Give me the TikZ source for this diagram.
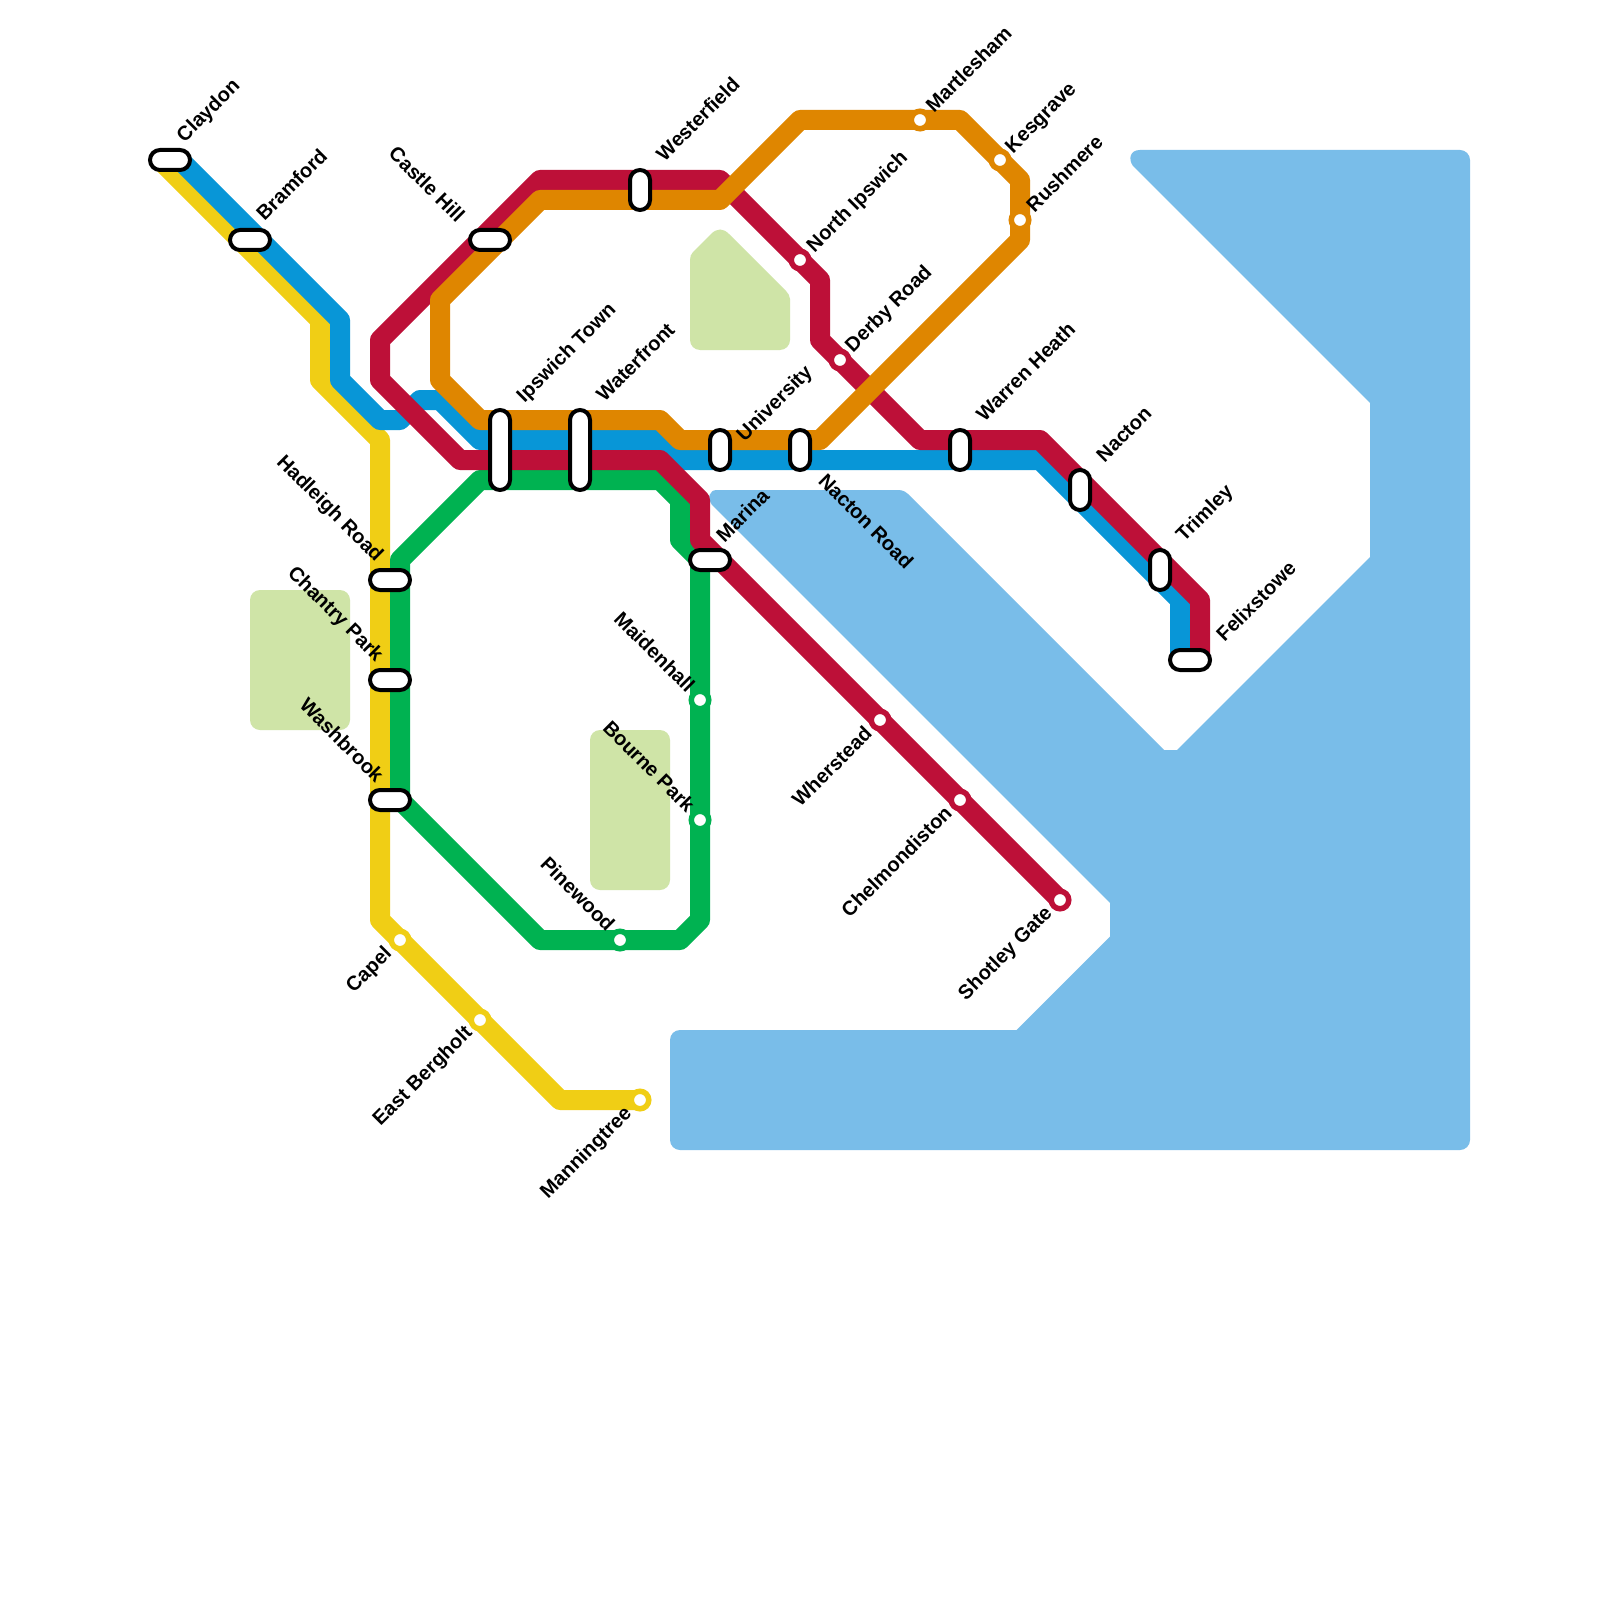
\documentclass[tikz,border=0pt]{standalone}
\usepackage{fontspec}
\setmainfont{Liberation Sans}
\usetikzlibrary{calc}
\definecolor{cyellow}{HTML}{F0CE15}
\definecolor{cblue}{HTML}{0896D7}
\definecolor{cred}{HTML}{BD1038}
\definecolor{corange}{HTML}{DF8600}
\definecolor{cgreen}{HTML}{00B251}
\definecolor{cwater}{HTML}{79BDE9}
\definecolor{cpark}{HTML}{CFE4A7}
\tikzset{
  metroline/.style={line width=5mm,line join=round},
  pill/.style={draw=black,fill=white,line width=1mm,rounded corners=2.5mm,inner sep=0pt,outer sep=0pt},
  pillh/.style={pill,minimum width=10mm,minimum height=5mm},
  pillv/.style={pill,minimum width=5mm,minimum height=10mm},
  pilltall/.style={pill,minimum width=5mm,minimum height=20mm},
  dot/.style={circle,fill=white,draw=#1,line width=1.375mm,minimum size=4.375mm,inner sep=0pt,outer sep=0pt},
  lab/.style={inner sep=0pt,outer sep=0pt,text=black,font=\fontsize{14.3}{17}\selectfont\bfseries},
  ne/.style={lab,rotate=45,anchor=mid west},
  sw/.style={lab,rotate=45,anchor=mid east},
  nw/.style={lab,rotate=-45,anchor=mid east},
  se/.style={lab,rotate=-45,anchor=mid west},
}
\begin{document}
\begin{tikzpicture}[x=0.25mm,y=-0.25mm]
\useasboundingbox (0,0) rectangle (1600,1600);
\fill[white] (0,0) rectangle (1600,1600);
% water
\fill[cwater] (1300,150) -- (1460,150) .. controls (1465.5,150) and (1470,154.5) .. (1470,160) -- (1470,1140) .. controls (1470,1145.5) and (1465.5,1150) .. (1460,1150)
  -- (680,1150) .. controls (674.5,1150) and (670,1145.5) .. (670,1140) -- (670,1040) .. controls (670,1034.5) and (674.5,1030) .. (680,1030)
  -- (1016.7,1030) -- (1110,936.7) -- (1110,903) -- (712,505) .. controls (707,498) and (709,490) .. (717,490)
  -- (896,490) .. controls (900,490) and (904,490) .. (908,494) -- (1164,750) -- (1177,750) -- (1370,557) -- (1370,403) -- (1133,166)
  .. controls (1128,159) and (1130,150) .. (1140,150) -- cycle;
% parks
\fill[cpark,rounded corners=2.5mm] (250,590) rectangle (350,730);
\fill[cpark,rounded corners=2.5mm] (590,730) rectangle (670,890);
\fill[cpark] (700,350) .. controls (694.5,350) and (690,345.5) .. (690,340) -- (690,260) .. controls (690,257) and (691,254) .. (693,252)
  -- (711,234) .. controls (717,228) and (723,228) .. (729,234) -- (786,291) .. controls (788,293) and (790,296) .. (790,299)
  -- (790,340) .. controls (790,345.5) and (785.5,350) .. (780,350) -- cycle;
% way points
\foreach \n/\x/\y in {y0/160/160,y1/320/320,y2/320/380,y3/380/440,y4/380/920,y5/560/1100,y6/640/1100,
  b0/180/160,b1/340/320,b2/340/380,b3/380/420,b4/400/420,b5/420/400,b6/440/400,b7/480/440,b8/660/440,b9/680/460,b10/1040/460,b11/1180/600,b12/1180/660,
  g0/400/560,g1/480/480,g2/660/480,g3/680/500,g4/680/540,g5/700/560,g6/700/920,g7/680/940,g8/540/940,g9/400/800,
  r0/1060/900,r1/700/540,r2/700/500,r3/660/460,r4/460/460,r5/380/380,r6/380/340,r7/540/180,r8/720/180,r9/820/280,r10/820/340,r11/920/440,r12/1040/440,r13/1200/600,r14/1200/660,
  o0/820/440,o1/680/440,o2/660/420,o3/480/420,o4/440/380,o5/440/300,o6/540/200,o7/720/200,o8/800/120,o9/960/120,o10/1020/180,o11/1020/240}
  {\coordinate (\n) at (\x,\y);}
% lines
\draw[metroline,cyellow] (y0) -- (y1) -- (y2) -- (y3) -- (y4) -- (y5) -- (y6);
\draw[metroline,cblue] (b0) -- (b1) -- (b2) -- (b3) -- (b4) -- (b5) -- (b6) -- (b7) -- (b8) -- (b9) -- (b10) -- (b11) -- (b12);
\draw[metroline,cgreen] (g0) -- (g1) -- (g2) -- (g3) -- (g4) -- (g5) -- (g6) -- (g7) -- (g8) -- (g9) -- cycle;
\draw[metroline,cred] (r0) -- (r1) -- (r2) -- (r3) -- (r4) -- (r5) -- (r6) -- (r7) -- (r8) -- (r9) -- (r10) -- (r11) -- (r12) -- (r13) -- (r14);
\draw[metroline,corange] (o0) -- (o1) -- (o2) -- (o3) -- (o4) -- (o5) -- (o6) -- (o7) -- (o8) -- (o9) -- (o10) -- (o11) -- cycle;
% interchange stations
\node[pillh] (claydon) at (170,160) {};
\node[pillh] (bramford) at (250,240) {};
\node[pillh] (castle) at (490,240) {};
\node[pilltall] (ipswich) at (500,450) {};
\node[pilltall] (waterfront) at (580,450) {};
\node[pillv] (westerfield) at (640,190) {};
\node[pillv] (university) at (720,450) {};
\node[pillv] (nactonroad) at (800,450) {};
\node[pillv] (warren) at (960,450) {};
\node[pillv] (nacton) at (1080,490) {};
\node[pillv] (trimley) at (1160,570) {};
\node[pillh] (felixstowe) at (1190,660) {};
\node[pillh] (marina) at (710,560) {};
\node[pillh] (hadleigh) at (390,580) {};
\node[pillh] (chantry) at (390,680) {};
\node[pillh] (washbrook) at (390,800) {};
% simple stations
\node[dot=cred] (northip) at (800,260) {};
\node[dot=cred] (derby) at (840,360) {};
\node[dot=cred] (wherstead) at (880,720) {};
\node[dot=cred] (chelm) at (960,800) {};
\node[dot=cred] (shotley) at (1060,900) {};
\node[dot=corange] (martlesham) at (920,120) {};
\node[dot=corange] (kesgrave) at (1000,160) {};
\node[dot=corange] (rushmere) at (1020,220) {};
\node[dot=cgreen] (maidenhall) at (700,700) {};
\node[dot=cgreen] (bourne) at (700,820) {};
\node[dot=cgreen] (pinewood) at (620,940) {};
\node[dot=cyellow] (capel) at (400,940) {};
\node[dot=cyellow] (bergholt) at (480,1020) {};
\node[dot=cyellow] (manningtree) at (640,1100) {};
% labels
\node[ne] (lclaydon) at ($(claydon)+(12,-19.5)$) {Claydon};
\node[ne] (lbramford) at ($(bramford)+(12,-21)$) {Bramford};
\node[ne] (lwesterfield) at ($(westerfield)+(22,-30.5)$) {Westerfield};
\node[ne] (lipswich) at ($(ipswich)+(22,-49.5)$) {Ipswich Town};
\node[ne] (lwaterfront) at ($(waterfront)+(22,-50)$) {Waterfront};
\node[ne] (luniversity) at ($(university)+(22,-10.5)$) {University};
\node[ne] (lwarren) at ($(warren)+(22,-30)$) {Warren Heath};
\node[ne] (lnacton) at ($(nacton)+(22,-29.5)$) {Nacton};
\node[ne] (ltrimley) at ($(trimley)+(21.5,-30)$) {Trimley};
\node[ne] (lfelixstowe) at ($(felixstowe)+(32,-20)$) {Felixstowe};
\node[ne] (lmarina) at ($(marina)+(12,-19.5)$) {Marina};
\node[ne] (lmartlesham) at ($(martlesham)+(11.5,-9)$) {Martlesham};
\node[ne] (lkesgrave) at ($(kesgrave)+(10.5,-8.5)$) {Kesgrave};
\node[ne] (lrushmere) at ($(rushmere)+(12,-9.5)$) {Rushmere};
\node[ne] (lnorthip) at ($(northip)+(12,-9.5)$) {North Ipswich};
\node[ne] (lderby) at ($(derby)+(10.5,-9.5)$) {Derby Road};
\node[sw] (lcapel) at ($(capel)+(-10,12)$) {Capel};
\node[sw] (lbergholt) at ($(bergholt)+(-9.5,11.5)$) {East Bergholt};
\node[sw] (lmanningtree) at ($(manningtree)+(-10,12)$) {Manningtree};
\node[sw] (lwherstead) at ($(wherstead)+(-9.5,12.5)$) {Wherstead};
\node[sw] (lchelm) at ($(chelm)+(-9.5,12)$) {Chelmondiston};
\node[sw] (lshotley) at ($(shotley)+(-9.5,11.5)$) {Shotley Gate};
\node[nw] (lcastle) at ($(castle)+(-31,-19)$) {Castle Hill};
\node[nw] (lhadleigh) at ($(hadleigh)+(-12,-20)$) {Hadleigh Road};
\node[nw] (lchantry) at ($(chantry)+(-12,-20)$) {Chantry Park};
\node[nw] (lwashbrook) at ($(washbrook)+(-12,-19)$) {Washbrook};
\node[nw] (lmaidenhall) at ($(maidenhall)+(-11,-9)$) {Maidenhall};
\node[nw] (lbourne) at ($(bourne)+(-11,-9)$) {Bourne Park};
\node[nw] (lpinewood) at ($(pinewood)+(-11,-10)$) {Pinewood};
\node[se] (lnactonroad) at ($(nactonroad)+(20,29.5)$) {Nacton Road};
\end{tikzpicture}
\end{document}
